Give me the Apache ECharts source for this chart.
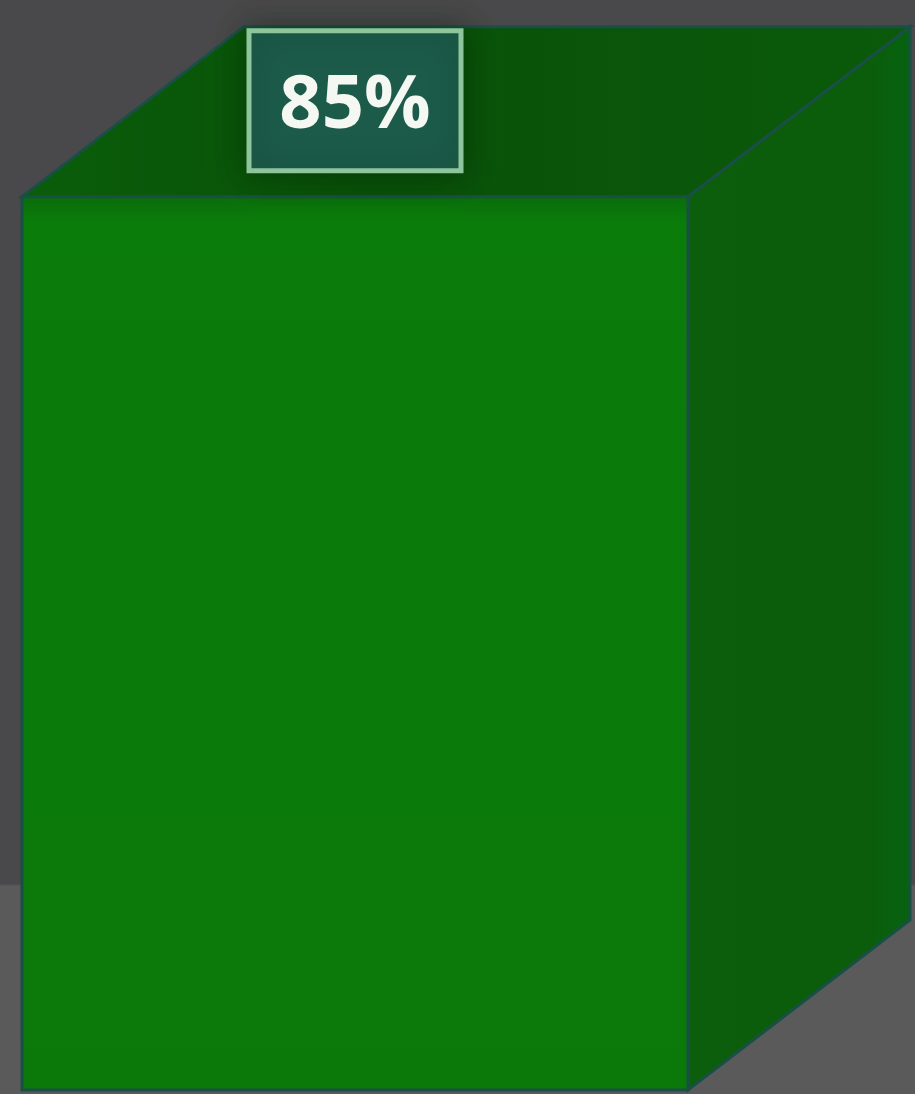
<!DOCTYPE html>
<html>
<head>
<meta charset="utf-8">
<title>Completion</title>
<script src="https://cdn.jsdelivr.net/npm/echarts@6/dist/echarts.min.js"></script>
<style>
  html, body { margin: 0; padding: 0; background: #49484a; }
  #chart { width: 915px; height: 1094px; }
</style>
</head>
<body>
<div id="chart"></div>
<script>
// Single 3D column showing the completion rate
const categories = ['Completion'];
const values = [85];
const valueMin = 0;
const valueMax = 100;

// Oblique depth of the column (pixels, right and up)
const DEPTH = [222, -170];
const EDGE = '#1a4f48';

const chart = echarts.init(document.getElementById('chart'), null, { renderer: 'canvas' });

function renderCube(params, api) {
  const cat = api.value(0);
  const val = api.value(1);
  const base = api.coord([cat, valueMin]);
  const top = api.coord([cat, val]);
  const w = api.size([1, 0])[0];
  const x0 = base[0] - w / 2;
  const x1 = base[0] + w / 2;
  const yb = base[1];
  const yt = top[1];
  const dx = DEPTH[0], dy = DEPTH[1];

  const right = {
    type: 'polygon',
    shape: { points: [[x1, yt], [x1 + dx, yt + dy], [x1 + dx, yb + dy], [x1, yb]] },
    style: {
      fill: new echarts.graphic.LinearGradient(0, 0, 1, 0, [
        { offset: 0, color: '#0b5e0b' },
        { offset: 0.8, color: '#0b5c0b' },
        { offset: 1, color: '#066310' }
      ]),
      stroke: EDGE, lineWidth: 3
    }
  };
  const topFace = {
    type: 'polygon',
    shape: { points: [[x0, yt], [x1, yt], [x1 + dx, yt + dy], [x0 + dx, yt + dy]] },
    style: {
      fill: new echarts.graphic.LinearGradient(0, 0, 1, 0, [
        { offset: 0, color: '#0a5d0a' },
        { offset: 0.4, color: '#095009' },
        { offset: 0.7, color: '#0a560a' },
        { offset: 1, color: '#0a5a0a' }
      ]),
      stroke: EDGE, lineWidth: 3
    }
  };
  const front = {
    type: 'rect',
    shape: { x: x0, y: yt, width: w, height: yb - yt },
    style: {
      fill: new echarts.graphic.LinearGradient(0, 0, 0, 1, [
        { offset: 0, color: '#0a6c0a' },
        { offset: 0.03, color: '#0a7c0a' },
        { offset: 1, color: '#0a790a' }
      ]),
      stroke: EDGE, lineWidth: 3
    }
  };

  // Value badge resting on the top face
  const cx = base[0];
  const cy = yt - 96;
  const bw = 212, bh = 140;
  const badge = {
    type: 'group',
    children: [
      {
        type: 'rect',
        shape: { x: cx - bw / 2, y: cy - bh / 2, width: bw, height: bh },
        style: {
          fill: '#1c5b4a',
          stroke: '#8fc59c',
          lineWidth: 5,
          shadowBlur: 30,
          shadowColor: 'rgba(0,30,0,0.45)'
        }
      },
      {
        type: 'text',
        x: cx,
        y: cy + 6,
        style: {
          text: val + '%',
          fill: '#f4f7f2',
          font: 'bold 74px "Open Sans", "Liberation Sans", sans-serif',
          align: 'center',
          verticalAlign: 'middle'
        }
      }
    ]
  };

  return { type: 'group', children: [right, topFace, front, badge] };
}

chart.setOption({
  animation: false,
  backgroundColor: new echarts.graphic.LinearGradient(0, 0, 0, 1, [
    { offset: 0, color: '#49484a' },
    { offset: 0.808, color: '#49484a' },
    { offset: 0.81, color: '#5b5a5b' },
    { offset: 1, color: '#5b5a5b' }
  ]),
  grid: { left: 22, right: 227, top: 39, bottom: 4 },
  xAxis: {
    type: 'category',
    data: categories,
    show: false
  },
  yAxis: {
    type: 'value',
    min: valueMin,
    max: valueMax,
    show: false
  },
  series: [{
    type: 'custom',
    clip: false,
    renderItem: renderCube,
    data: categories.map((c, i) => [i, values[i]])
  }]
});
</script>
</body>
</html>
